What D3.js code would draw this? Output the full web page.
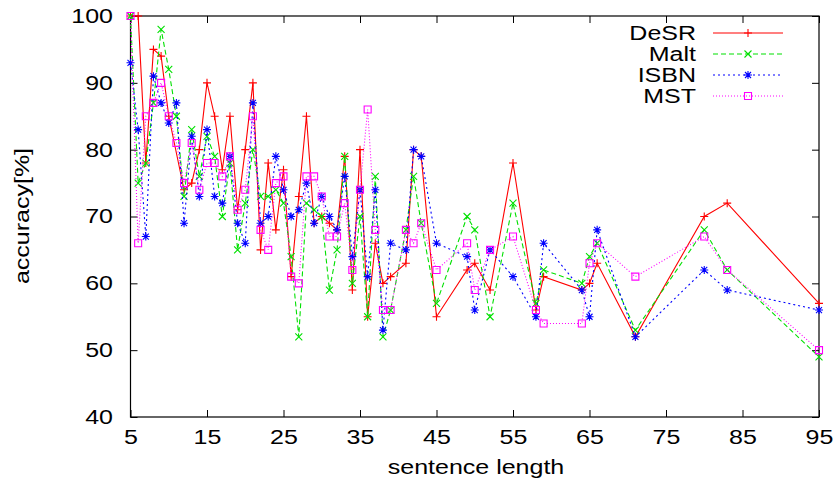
<!DOCTYPE html>
<html>
<head>
<meta charset="utf-8">
<script src="https://cdn.jsdelivr.net/npm/d3@7"></script>
<style>
html,body{margin:0;padding:0;background:#fff;}
svg{display:block;}
text{font-family:"Liberation Sans",Arial,Helvetica,sans-serif;}
</style>
</head>
<body>
<svg id="chart" width="835" height="480"></svg>
<script>
// ---------- data ----------
const xTicks = [5,15,25,35,45,55,65,75,85,95];
const yTicks = [40,50,60,70,80,90,100];
const seriesNames = ["DeSR","Malt","ISBN","MST"];

const desrLen = [5,6,7,8,9,10,12,13,14,15,16,17,18,19,20,21,22,23,24,25,26,27,28,29,30,31,32,33,34,35,36,37,38,39,41,42,43,45,49,50,52,55,58,59,64,65,66,71,80,83,95];
const desrAcc = [100,100,78,95,94,85,74,75,80,90,85,77,85,71,80,90,65,78,68,77,61,73,85,69,70,69,68,79,59,80,55,66,60,61,63,80,79,55,62,63,59,78,56,61,59,60,63,52,70,72,57];

const maltLen = [5,6,7,8,9,10,11,12,13,14,15,16,17,18,19,20,21,22,23,24,25,26,27,28,29,30,31,32,33,34,35,36,37,38,39,41,42,43,45,49,50,52,55,58,59,64,65,66,71,80,83,95];
const maltAcc = [100,75,78,87,98,92,85,73,83,76,82,79,70,78,65,72,80,73,73,74,72,64,52,72,71,70,59,65,79,60,70,55,76,52,56,68,76,69,57,70,68,55,72,57,62,60,64,66,53,68,62,49];

const isbnLen = [5,6,7,8,9,10,11,12,13,14,15,16,17,18,19,20,21,22,23,24,25,26,27,28,29,30,31,32,33,34,35,36,37,38,39,41,42,43,45,49,50,52,55,58,59,64,65,66,71,80,83,95];
const isbnAcc = [93,83,67,91,87,84,87,69,82,73,83,73,72,79,69,66,87,69,70,79,74,70,71,75,69,73,70,68,76,64,74,61,74,53,66,65,80,79,66,64,56,65,61,55,66,59,55,68,52,62,59,56];

const mstLen = [5,6,7,8,9,10,11,12,13,14,15,16,17,18,19,20,21,22,23,24,25,26,27,28,29,30,31,32,33,34,35,36,37,38,39,41,42,43,45,49,50,52,55,58,59,64,65,66,71,80,83,95];
const mstAcc = [100,66,85,87,90,85,81,75,81,74,78,78,76,79,71,74,85,68,65,75,76,61,60,76,76,73,67,67,72,62,74,86,68,56,56,68,66,69,62,66,59,65,67,56,54,54,63,66,61,67,62,50];

// ---------- layout ----------
const L = 130.5, R = 819, T = 16, B = 417;
const svg = d3.select("#chart");
const x = d3.scaleLinear().domain([5,95]).range([L,R]);
const y = d3.scaleLinear().domain([40,100]).range([B,T]);
const SX = 1.25; // horizontal stretch of glyphs

const styles = [
  {color:"#ff0000", dash:null, marker:"plus"},
  {color:"#00e000", dash:"5,3", marker:"cross"},
  {color:"#0000ff", dash:"2,3", marker:"star"},
  {color:"#ff00ff", dash:"1,2", marker:"square"}
];
const data = [
  d3.zip(desrLen, desrAcc),
  d3.zip(maltLen, maltAcc),
  d3.zip(isbnLen, isbnAcc),
  d3.zip(mstLen, mstAcc)
];

function markerPath(type){
  const s = 4;
  if(type==="plus") return `M${-s},0H${s}M0,${-s}V${s}`;
  if(type==="cross") return `M${-3.5},${-3.5}L3.5,3.5M${-3.5},3.5L3.5,${-3.5}`;
  if(type==="star") return `M${-s},0H${s}M0,${-s}V${s}M-3,-3L3,3M-3,3L3,-3`;
  return `M-3.5,-3.5H3.5V3.5H-3.5Z`;
}

// ---------- axes ----------
const fontSize = 20;
const gx = svg.append("g").attr("transform",`translate(0,${B})`)
  .call(d3.axisBottom(x).tickValues(xTicks).tickSizeInner(-7).tickSizeOuter(0).tickPadding(13));
const gxTop = svg.append("g").attr("transform",`translate(0,${T})`)
  .call(d3.axisTop(x).tickValues(xTicks).tickSizeInner(-7).tickSizeOuter(0).tickFormat(""));
const gy = svg.append("g").attr("transform",`translate(${L},0)`)
  .call(d3.axisLeft(y).tickValues(yTicks).tickSizeInner(-7).tickSizeOuter(0).tickPadding(14));
const gyR = svg.append("g").attr("transform",`translate(${R},0)`)
  .call(d3.axisRight(y).tickValues(yTicks).tickSizeInner(-7).tickSizeOuter(0).tickFormat(""));

[gx,gxTop,gy,gyR].forEach(g=>{
  g.select(".domain").remove();
  g.selectAll(".tick line").attr("stroke","#000").attr("stroke-width",1);
  g.selectAll(".tick text").attr("font-size",fontSize).attr("fill","#000")
    .attr("font-family","Liberation Sans, Arial, sans-serif");
});
gx.selectAll(".tick text").attr("transform",`scale(${SX},1)`);
gy.selectAll(".tick text").attr("x",-17.5/SX).attr("transform",`scale(${SX},1)`);

// border
svg.append("rect").attr("x",L).attr("y",T).attr("width",R-L).attr("height",B-T)
  .attr("fill","none").attr("stroke","#000").attr("stroke-width",1.2);

// axis titles
svg.append("text").attr("transform",`translate(476,474) scale(${SX},1)`)
  .attr("text-anchor","middle").attr("font-size",fontSize).text("sentence length");
svg.append("text").attr("transform",`translate(29,216) rotate(-90) scale(${SX},1)`)
  .attr("text-anchor","middle").attr("font-size",fontSize).text("accuracy[%]");

// ---------- series ----------
const line = d3.line().x(d=>x(d[0])).y(d=>y(d[1]));
data.forEach((pts,i)=>{
  const st = styles[i];
  const g = svg.append("g");
  g.append("path").datum(pts).attr("d",line).attr("fill","none")
    .attr("stroke",st.color).attr("stroke-width",1.1)
    .attr("stroke-dasharray",st.dash);
  g.selectAll("path.m").data(pts).join("path").attr("class","m")
    .attr("transform",d=>`translate(${x(d[0])},${y(d[1])})`)
    .attr("d",markerPath(st.marker)).attr("fill","none")
    .attr("stroke",st.color).attr("stroke-width",1.1);
});

// ---------- legend ----------
const legRows = [33,54,75,96];
const leg = svg.append("g");
seriesNames.forEach((name,i)=>{
  const st = styles[i], yy = legRows[i];
  leg.append("text").attr("transform",`translate(696,${yy+7}) scale(${SX},1)`)
    .attr("text-anchor","end").attr("font-size",fontSize).text(name);
  leg.append("line").attr("x1",713).attr("x2",783).attr("y1",yy).attr("y2",yy)
    .attr("stroke",st.color).attr("stroke-width",1.1).attr("stroke-dasharray",st.dash);
  leg.append("path").attr("transform",`translate(748,${yy})`).attr("d",markerPath(st.marker))
    .attr("fill","none").attr("stroke",st.color).attr("stroke-width",1.1);
});
</script>
</body>
</html>
